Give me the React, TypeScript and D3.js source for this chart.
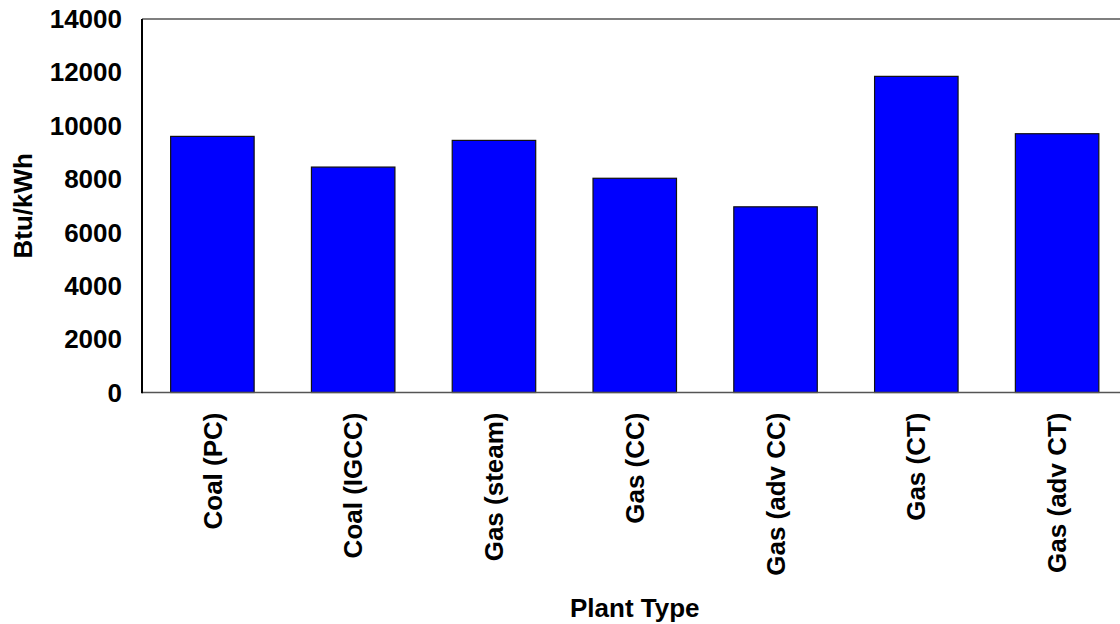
import React, { useEffect, useRef } from "react";
import * as d3 from "d3";

const categories = ["Coal (PC)", "Coal (IGCC)", "Gas (steam)", "Gas (CC)", "Gas (adv CC)", "Gas (CT)", "Gas (adv CT)"];
const values = [9600, 8450, 9450, 8030, 6960, 11850, 9700];
const yTicks = [0, 2000, 4000, 6000, 8000, 10000, 12000, 14000];
const yTitle = "Btu/kWh";
const xTitle = "Plant Type";

const W = 1120;
const H = 624;

export default function App() {
  const ref = useRef<SVGSVGElement | null>(null);
  useEffect(() => {
    document.body.style.margin = "0";
    const svg = d3.select(ref.current);
    svg.selectAll("*").remove();
    const left = 142, right = 1127.5, top = 19, bottom = 392.5;
    const font = "'Liberation Sans', Arial, sans-serif";
    const fs = 26;
    const x = d3.scaleBand<string>().domain(categories).range([left, right]).paddingInner(0.407).paddingOuter(0.2035);
    const y = d3.scaleLinear().domain([0, 14000]).range([bottom, top]);

    const g = svg.append("g");
    g.selectAll("rect.bar")
      .data(values)
      .enter()
      .append("rect")
      .attr("class", "bar")
      .attr("x", (_, i) => x(categories[i])!)
      .attr("width", x.bandwidth())
      .attr("y", (d) => y(d))
      .attr("height", (d) => y(0) - y(d))
      .attr("fill", "#0000ff")
      .attr("stroke", "#111")
      .attr("stroke-width", 1.2);

    // frame lines
    g.append("line").attr("x1", left).attr("x2", W + 10).attr("y1", top).attr("y2", top).attr("stroke", "#555").attr("stroke-width", 1.5);
    g.append("line").attr("x1", left).attr("x2", W + 10).attr("y1", bottom).attr("y2", bottom).attr("stroke", "#555").attr("stroke-width", 1.5);
    g.append("line").attr("x1", left).attr("x2", left).attr("y1", top).attr("y2", bottom + 0.75).attr("stroke", "#000").attr("stroke-width", 2);

    // y tick labels
    g.selectAll("text.yt")
      .data(yTicks)
      .enter()
      .append("text")
      .attr("class", "yt")
      .attr("x", left - 20)
      .attr("y", (d) => y(d))
      .attr("dy", "0.35em")
      .attr("text-anchor", "end")
      .attr("font-family", font)
      .attr("font-weight", "bold")
      .attr("font-size", fs)
      .text((d) => String(d));

    // x tick labels
    g.selectAll("text.xt")
      .data(categories)
      .enter()
      .append("text")
      .attr("class", "xt")
      .attr("transform", (d) => `translate(${x(d)! + x.bandwidth() / 2},${bottom + 20}) rotate(-90)`)
      .attr("dy", "0.35em")
      .attr("text-anchor", "end")
      .attr("font-family", font)
      .attr("font-weight", "bold")
      .attr("font-size", fs)
      .text((d) => d);

    // axis titles
    g.append("text")
      .attr("transform", `translate(22.5,${(top + bottom) / 2}) rotate(-90)`)
      .attr("dy", "0.35em")
      .attr("text-anchor", "middle")
      .attr("font-family", font)
      .attr("font-weight", "bold")
      .attr("font-size", fs)
      .text(yTitle);
    g.append("text")
      .attr("x", (left + right) / 2)
      .attr("y", 617)
      .attr("text-anchor", "middle")
      .attr("font-family", font)
      .attr("font-weight", "bold")
      .attr("font-size", fs)
      .text(xTitle);
  }, []);
  return <svg ref={ref} width={W} height={H} style={{ display: "block", background: "#fff" }} />;
}
